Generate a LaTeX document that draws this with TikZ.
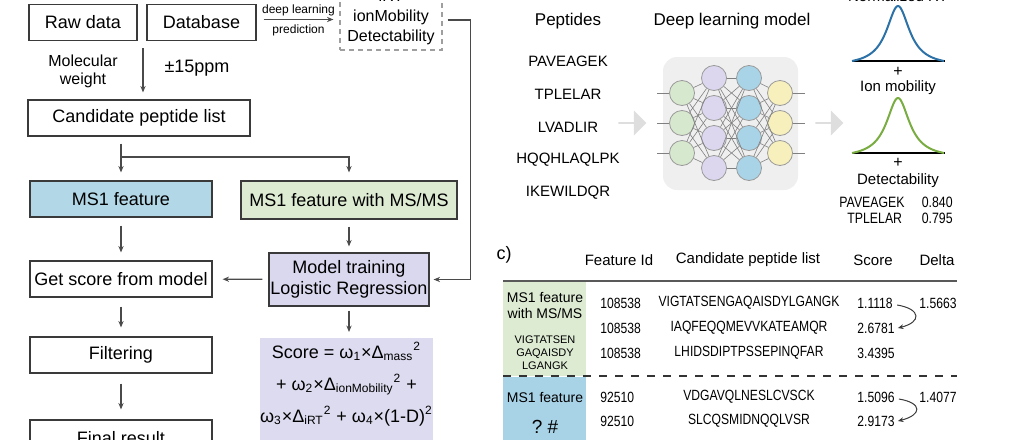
\documentclass[tikz,border=0pt]{standalone}
\usepackage{fontspec}
\setmainfont{Liberation Sans}
\newfontfamily\narrowfont[FakeStretch=0.82]{Liberation Sans}
\usepackage{tikz}
\usetikzlibrary{arrows.meta, positioning, shapes.arrows, calc}
\definecolor{boxink}{HTML}{3A3A3A}
\definecolor{flowink}{HTML}{4A4A4A}
\definecolor{msblue}{HTML}{B2D7E6}
\definecolor{msgreen}{HTML}{DDEBD3}
\definecolor{mslav}{HTML}{DAD8EE}
\definecolor{scorelav}{HTML}{DCDBEF}
\definecolor{nngreen}{HTML}{D6E8CE}
\definecolor{nnlav}{HTML}{DCD7EE}
\definecolor{nnblue}{HTML}{A9D4E7}
\definecolor{nnyellow}{HTML}{F7F0BC}
\definecolor{nnedge}{HTML}{9A9A9A}
\definecolor{nnback}{HTML}{EFEFEF}
\definecolor{peakblue}{HTML}{2C72A6}
\definecolor{peakgreen}{HTML}{79AC41}
\definecolor{tabblue}{HTML}{A8D2E6}

\begin{document}
\begin{tikzpicture}[
  x=0.5pt, y=-0.5pt,
  every node/.style={align=center, inner sep=0pt},
  box/.style={draw=boxink, line width=0.6pt, minimum height=18pt,
    font=\fontsize{9}{10.5}\selectfont},
  predbox/.style={draw=gray!75, dash pattern=on 2.5pt off 2pt, line width=0.6pt,
    font=\fontsize{8}{10}\selectfont},
  flow/.style={-{Stealth[length=3.2pt, width=2.6pt]}, draw=flowink, line width=0.6pt},
  link/.style={draw=flowink, line width=0.6pt},
  note/.style={font=\fontsize{8}{9}\selectfont},
  small/.style={font=\fontsize{6}{7}\selectfont},
  hdr/.style={font=\fontsize{8.5}{10}\selectfont},
  seqtxt/.style={font=\fontsize{7.5}{9}\selectfont},
  peaklab/.style={font=\fontsize{7.5}{9}\selectfont},
  detval/.style={font=\narrowfont\fontsize{7.5}{9}\selectfont},
  grayarrow/.style={single arrow, fill=nnback!85!gray, minimum width=12.5pt,
    minimum height=14pt, single arrow head extend=2.5pt},
  neuron/.style={circle, draw=nnedge, line width=0.4pt, minimum size=12.5pt},
  nnlink/.style={draw=black!50, line width=0.3pt},
  peak/.style={line width=1pt, domain=-46:46, samples=90, smooth},
  tabhdr/.style={font=\fontsize{7.5}{9}\selectfont},
  tabbody/.style={font=\narrowfont\fontsize{7.4}{8}\selectfont},
  celltxt/.style={font=\fontsize{7}{8}\selectfont},
  cellseq/.style={font=\fontsize{5.5}{6.5}\selectfont},
  swap/.style={-{Stealth[length=2.8pt, width=2.4pt]}, draw=boxink, line width=0.5pt}
]
\useasboundingbox (0,0) rectangle (1032,439);

% left: workflow
\node[box, minimum width=54pt] (raw) at (83,22.5) {Raw data};
\node[box, minimum width=54.5pt] (db) at (201.5,22.5) {Database};
\node[predbox, minimum width=51pt, minimum height=33pt] (pred) at (391,17)
  {iRT\\ionMobility\\Detectability};
\draw[flow] ([xshift=3.5pt,yshift=1.5pt]db.east) --
  node[above=1.5pt, small] {deep learning}
  node[below=2.5pt, small] {prediction}
  ([xshift=-3pt,yshift=1.5pt]db.east -| pred.west);

\node[note] (mw) at (83,71) {Molecular\\weight};
\node[box, draw=none] (ppm) at (197,68) {±15ppm};
\coordinate (mwtop) at (143,48);
\node[box, minimum width=111pt] (cand) at (139,118) {Candidate peptide list};
\draw[flow, shorten >=3.5pt] (mwtop) -- (mwtop |- cand.north);

\node[box, fill=msblue, minimum width=91pt] (ms1) at (121,199) {MS1 feature};
\node[box, fill=msgreen, minimum width=108pt, minimum height=19pt] (msms) at (349,200)
  {MS1 feature with MS/MS};
\coordinate (split) at (121,157);
\draw[link] ([yshift=-3.5pt]cand.south -| split) -- (split);
\draw[flow, shorten >=4pt] (split) -- (ms1.north);
\draw[flow, shorten >=4pt] (split) -| (msms.north);

\node[box, fill=mslav, minimum width=80pt, minimum height=26.5pt] (train) at (349,279.5)
  {Model training\\Logistic Regression};
\node[box, minimum width=91pt] (getscore) at (121,279) {Get score from model};
\node[box, minimum width=91pt] (filter) at (121,355) {Filtering};
\node[box, minimum width=91pt] (final) at (121,438) {Final result};

\draw[flow, shorten <=4pt, shorten >=4pt] (ms1) -- (getscore);
\draw[flow, shorten <=3.5pt, shorten >=3pt] (msms) -- (train);
\draw[flow, shorten <=3pt, shorten >=5pt] (train) -- (getscore);
\draw[flow, shorten <=4.5pt, shorten >=4.5pt] (getscore) -- (filter);
\draw[flow, shorten <=5pt, shorten >=5pt] (filter) -- (final);
\draw[flow, shorten >=2pt] ([xshift=2.5pt,yshift=-1.5pt]pred.east) -- ++(23,0) |- (train.east);

\node[fill=scorelav, anchor=north, minimum width=86.5pt, minimum height=61pt] (scorebox)
  at (346.5,338) {};
\draw[flow, shorten <=2pt, shorten >=3pt] (train.south) -- (train.south |- scorebox.north);
\node[font=\fontsize{9}{16}\selectfont] (score) at (346.5,384)
  {Score = ω\textsubscript{1}×Δ\textsubscript{mass}\textsuperscript{2}\\
   + ω\textsubscript{2}×Δ\textsubscript{ionMobility}\textsuperscript{2} +\\
   ω\textsubscript{3}×Δ\textsubscript{iRT}\textsuperscript{2} + ω\textsubscript{4}×(1-D)\textsuperscript{2}};

% right top: prediction model
\node[hdr] (peptides) at (568,21) {Peptides};
\node[hdr] (dlm) at (732,21) {Deep learning model};
\foreach \seq [count=\i] in {PAVEAGEK, TPLELAR, LVADLIR, HQQHLAQLPK, IKEWILDQR}
  \node[seqtxt] (seq\i) at (568,{28+33*\i}) {\seq};

\node[grayarrow] (arr1) at (632,123) {};
\node[grayarrow] (arr2) at (829,123) {};

\node[fill=nnback, rounded corners=7pt, minimum width=67.5pt, minimum height=66.5pt]
  (nnbg) at (730.5,123.5) {};
\foreach \i in {1,2,3}
  \node[neuron, fill=nngreen] (in\i) at (682,{63+30*\i}) {};
\foreach \i in {1,...,4}
  \node[neuron, fill=nnlav] (ha\i) at (714,{48+30*\i}) {};
\foreach \i in {1,...,4}
  \node[neuron, fill=nnblue] (hb\i) at (749,{48+30*\i}) {};
\foreach \i in {1,2,3}
  \node[neuron, fill=nnyellow] (out\i) at (780,{63+30*\i}) {};
\foreach \i in {1,2,3}
  \foreach \j in {1,...,4}
    \draw[nnlink] (in\i) -- (ha\j);
\foreach \i in {1,...,4}
  \foreach \j in {1,...,4}
    \draw[nnlink] (ha\i) -- (hb\j);
\foreach \i in {1,...,4}
  \foreach \j in {1,2,3}
    \draw[nnlink] (hb\i) -- (out\j);
\foreach \i in {1,2,3} {
  \draw[nnlink] (in\i.west) -- ++(-12,0);
  \draw[nnlink] (out\i.east) -- ++(12,0);
}

% predicted properties
\node[peaklab] (rtlab) at (898,-4) {Normalized RT};
\draw[line width=1pt] (852,61) -- (945,61);
\draw[peak, peakblue] plot ({898+\x},{61-55*(1/(1+(\x/14)^2)-0.0848)/0.9152});
\node[note] (plus1) at (898,72) {+};
\node[peaklab] (imlab) at (898,88) {Ion mobility};
\draw[line width=1pt] (852,153) -- (945,153);
\draw[peak, peakgreen] plot ({898+\x},{153-55*(1/(1+(\x/14)^2)-0.0848)/0.9152});
\node[note] (plus2) at (898,163) {+};
\node[peaklab] (detlab) at (898,181) {Detectability};
\node[detval, anchor=west] (dpep1) at (839,202) {PAVEAGEK};
\node[detval, anchor=east] (dval1) at (953,202) {0.840};
\node[detval, anchor=west] (dpep2) at (847,218) {TPLELAR};
\node[detval, anchor=east] (dval2) at (953,218) {0.795};

% right bottom: scoring table
\node[box, draw=none] (clab) at (504,255) {c)};
\node[tabhdr] (hfid) at (619,260) {Feature Id};
\node[tabhdr] (hpep) at (748,260) {Candidate peptide list};
\node[tabhdr] (hsc) at (873,260) {Score};
\node[tabhdr] (hdel) at (937,260) {Delta};
\draw[draw=black!65, line width=0.6pt] (503,281) -- (957,281);

\node[fill=msgreen, anchor=north west, minimum width=41.5pt, minimum height=47pt]
  (gcell) at (503,281.5) {};
\node[celltxt] (gcelltxt) at (545,305) {MS1 feature\\with MS/MS};
\node[cellseq] (gcellseq) at (545,353) {VIGTATSEN\\GAQAISDY\\LGANGK};
\node[fill=tabblue, anchor=north west, minimum width=41.5pt, minimum height=42pt]
  (bcell) at (503,377) {};
\node[celltxt] (bcelltxt) at (545,397) {MS1 feature};
\node[font=\fontsize{9.5}{11}\selectfont] (bcellmark) at (545,427) {?~\#};
\draw[draw=black!80, line width=0.7pt, dash pattern=on 4pt off 4pt] (503,376) -- (957,376);

\foreach \y/\fid/\pep/\sc [count=\i] in {
    303/108538/VIGTATSENGAQAISDYLGANGK/1.1118,
    328/108538/IAQFEQQMEVVKATEAMQR/2.6781,
    353/108538/LHIDSDIPTPSSEPINQFAR/3.4395,
    397/92510/VDGAVQLNESLCVSCK/1.5096,
    421/92510/SLCQSMIDNQQLVSR/2.9173} {
  \node[tabbody, anchor=west] (fid\i) at (600,\y) {\fid};
  \node[tabbody] (cpep\i) at (749,\y) {\pep};
  \node[tabbody, anchor=west] (sc\i) at (857,\y) {\sc};
}
\node[tabbody, anchor=west] (delta1) at (919,303) {1.5663};
\node[tabbody, anchor=west] (delta2) at (919,397) {1.4077};
\draw[swap] ([xshift=2pt,yshift=-1pt]sc1.east) .. controls +(24,4) and +(24,-6) .. ([xshift=1.5pt]sc2.east);
\draw[swap] ([xshift=2pt,yshift=-1pt]sc4.east) .. controls +(24,4) and +(24,-6) .. ([xshift=1.5pt]sc5.east);

\end{tikzpicture}
\end{document}
